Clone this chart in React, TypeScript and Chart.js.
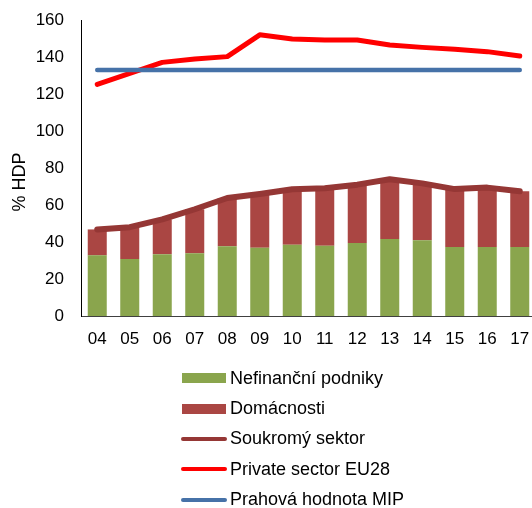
import React, { useEffect, useRef } from "react";
import { Chart, registerables } from "chart.js";

Chart.register(...registerables);

// ---- data ----
const years = ["04", "05", "06", "07", "08", "09", "10", "11", "12", "13", "14", "15", "16", "17"];
const nefinancniPodniky = [32.8, 30.8, 33.4, 33.9, 37.7, 36.9, 38.5, 38.0, 39.5, 41.6, 40.9, 37.3, 37.3, 37.3];
const domacnosti = [14.0, 17.2, 18.8, 23.8, 26.1, 29.1, 30.0, 31.0, 31.5, 32.3, 30.8, 31.3, 32.1, 30.1];
const soukromySektor = [46.8, 48.0, 52.2, 57.7, 63.8, 66.0, 68.5, 69.0, 71.0, 73.9, 71.7, 68.6, 69.4, 67.4];
const privateSectorEU28 = [125.2, 131.2, 137.1, 138.9, 140.2, 152.0, 149.7, 149.2, 149.2, 146.5, 145.2, 144.2, 142.9, 140.5];
const prahovaHodnotaMIP = [133, 133, 133, 133, 133, 133, 133, 133, 133, 133, 133, 133, 133, 133];

const yMin = 0;
const yMax = 160;
const yStep = 20;
const yTitle = "% HDP";

const labelsText = {
  nef: "Nefinanční podniky",
  dom: "Domácnosti",
  souk: "Soukromý sektor",
  eu: "Private sector EU28",
  mip: "Prahová hodnota MIP",
};

// ---- styles ----
const FONT = "Arial, 'Liberation Sans', sans-serif";
const C_GREEN = "#8AA54D";
const C_BARRED = "#AA4643";
const C_DARKRED = "#953735";
const C_RED = "#FF0000";
const C_BLUE = "#4672A8";

const legendItems = [
  { label: labelsText.nef, color: C_GREEN, kind: "bar" },
  { label: labelsText.dom, color: C_BARRED, kind: "bar" },
  { label: labelsText.souk, color: C_DARKRED, kind: "line" },
  { label: labelsText.eu, color: C_RED, kind: "line" },
  { label: labelsText.mip, color: C_BLUE, kind: "line" },
];

const yTitlePlugin = {
  id: "yTitlePlugin",
  afterDraw(chart: any) {
    const ctx = chart.ctx;
    ctx.save();
    ctx.translate(20, 182);
    ctx.rotate(-Math.PI / 2);
    ctx.font = `18px ${FONT}`;
    ctx.fillStyle = "#000";
    ctx.textAlign = "center";
    ctx.textBaseline = "middle";
    ctx.fillText(yTitle, 0, 0);
    ctx.restore();
  },
};

export default function App() {
  const canvasRef = useRef<HTMLCanvasElement | null>(null);

  useEffect(() => {
    if (!canvasRef.current) return;
    Chart.defaults.font.family = FONT;
    Chart.defaults.font.size = 17;
    Chart.defaults.color = "#000";

    const chart = new Chart(canvasRef.current, {
      type: "bar",
      data: {
        labels: years,
        datasets: [
          {
            type: "line",
            label: labelsText.mip,
            data: prahovaHodnotaMIP,
            borderColor: C_BLUE,
            backgroundColor: C_BLUE,
            borderWidth: 4.5,
            pointRadius: 0,
            borderCapStyle: "round",
            borderJoinStyle: "round",
            stack: "mip",
            order: 0,
          } as any,
          {
            type: "line",
            label: labelsText.eu,
            data: privateSectorEU28,
            borderColor: C_RED,
            backgroundColor: C_RED,
            borderWidth: 5,
            pointRadius: 0,
            borderCapStyle: "round",
            borderJoinStyle: "round",
            stack: "eu",
            order: 1,
          } as any,
          {
            type: "line",
            label: labelsText.souk,
            data: soukromySektor,
            borderColor: C_DARKRED,
            backgroundColor: C_DARKRED,
            borderWidth: 6,
            pointRadius: 0,
            borderCapStyle: "round",
            borderJoinStyle: "round",
            stack: "souk",
            order: 2,
          } as any,
          {
            type: "bar",
            label: labelsText.nef,
            data: nefinancniPodniky,
            backgroundColor: C_GREEN,
            borderWidth: 0,
            stack: "bars",
            barPercentage: 0.585,
            categoryPercentage: 1,
            order: 3,
          } as any,
          {
            type: "bar",
            label: labelsText.dom,
            data: domacnosti,
            backgroundColor: C_BARRED,
            borderWidth: 0,
            stack: "bars",
            barPercentage: 0.585,
            categoryPercentage: 1,
            order: 3,
          } as any,
        ],
      },
      options: {
        responsive: false,
        animation: false,
        devicePixelRatio: 1,
        layout: { padding: { left: 0, top: 20, right: 4, bottom: 0 } },
        plugins: {
          legend: { display: false },
          tooltip: { enabled: false },
        },
        scales: {
          x: {
            type: "category",
            stacked: true,
            offset: true,
            grid: { display: false, drawTicks: false },
            border: { display: true, color: "#404040", width: 1 },
            ticks: {
              color: "#000",
              font: { size: 17, family: FONT },
              padding: 13,
              maxRotation: 0,
              autoSkip: false,
            },
            afterFit: (s: any) => {
              s.height = 192;
              s.paddingLeft = 0;
              s.paddingRight = 0;
            },
          },
          y: {
            stacked: true,
            min: yMin,
            max: yMax,
            grid: { display: false, drawTicks: false },
            border: { display: true, color: "#000", width: 1 },
            ticks: {
              stepSize: yStep,
              color: "#000",
              font: { size: 17, family: FONT },
              padding: 17,
            },
            afterFit: (s: any) => {
              s.width = 81;
              s.paddingTop = 0;
              s.paddingBottom = 0;
            },
          },
        },
      } as any,
      plugins: [yTitlePlugin],
    });

    return () => chart.destroy();
  }, []);

  return (
    <div
      style={{
        position: "absolute",
        left: 0,
        top: 0,
        width: 532,
        height: 508,
        overflow: "hidden",
        background: "#fff",
      }}
    >
      <canvas ref={canvasRef} width={540} height={508} style={{ display: "block", width: 540, height: 508 }} />
      <div style={{ position: "absolute", left: 181, top: 363, fontFamily: FONT, fontSize: 18, color: "#000" }}>
        {legendItems.map((it) => (
          <div key={it.label} style={{ display: "flex", alignItems: "center", height: 30.4 }}>
            <div style={{ width: 46, display: "flex", alignItems: "center", justifyContent: "center" }}>
              {it.kind === "bar" ? (
                <div style={{ width: 44, height: 10, background: it.color }} />
              ) : (
                <div style={{ width: 46, height: 4, borderRadius: 2, background: it.color }} />
              )}
            </div>
            <span style={{ marginLeft: 3, whiteSpace: "nowrap" }}>{it.label}</span>
          </div>
        ))}
      </div>
    </div>
  );
}
